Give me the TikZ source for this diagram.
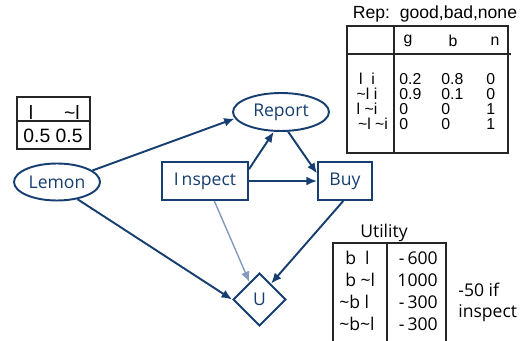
\documentclass[tikz,border=0pt]{standalone}
\usepackage{fontspec}
\setmainfont{Liberation Sans}
\newfontfamily\slidefont{Open Sans}
\usetikzlibrary{shapes.geometric,arrows.meta}
\definecolor{navy}{RGB}{22,62,112}
\definecolor{paleblue}{RGB}{132,154,190}
\definecolor{titleblue}{RGB}{51,51,170}
\tikzset{
        chance/.style={ellipse, draw=navy, line width=1.1pt, text=navy, inner sep=0pt, font=\slidefont\fontsize{10}{12}\selectfont},
        decision/.style={rectangle, draw=navy, line width=1.1pt, text=navy, inner sep=0pt, font=\slidefont\fontsize{10}{12}\selectfont},
        value/.style={diamond, draw=navy, line width=1.1pt, text=navy, inner sep=0pt, font=\slidefont\fontsize{10}{12}\selectfont},
        link/.style={draw=navy, line width=1.1pt, -{Latex[length=6pt,width=5pt]}},
        faint link/.style={link, draw=paleblue, line width=0.8pt},
        cpt/.style={inner sep=0pt, font=\fontsize{9}{11}\selectfont},
        util/.style={inner sep=0pt, font=\slidefont\fontsize{10}{12}\selectfont},
        grid line/.style={draw=black!85, line width=0.6pt}
          }
\begin{document}
\begin{tikzpicture}[x=0.02cm, y=-0.02cm]
        \useasboundingbox (0,0) rectangle (528,341);
        \begin{scope}
          \clip (0,0) rectangle (528,341);
          \node[font=\slidefont\fontsize{22}{26}\selectfont, text=titleblue, anchor=base] (titlefrag) at (201,-13) {y};
        \end{scope}
        % network
        \node[chance, minimum width=1.72cm, minimum height=0.74cm] (lemon) at (57,182) {Lemon};
        \node[chance, minimum width=1.92cm, minimum height=0.76cm] (report) at (281,112) {Report};
        \node[decision, minimum width=1.72cm, minimum height=0.76cm] (inspect) at (205,181) {I\,nspect};
        \node[decision, minimum width=1.08cm, minimum height=0.76cm] (buy) at (345,181) {Buy};
        \node[value, minimum width=1.06cm, minimum height=1.06cm] (u) at (259.5,299.5) {U};
        \draw[link] (lemon.18) -- (report.188);
        \draw[link] (lemon.-40) -- (u.west);
        \draw[link] (inspect.15) -- (report.250);
        \draw[link] (report.-70) -- (buy.165);
        \draw[link] (inspect.east) -- (buy.west);
        \draw[faint link] (inspect.-65) -- (u.120);
        \draw[link] (buy.-95) -- (u.54);
        % prior on lemon
        \draw[grid line] (17,97) rectangle (90,149);
        \draw[grid line] (17,121) -- (90,121);
        \node[cpt, font=\fontsize{11}{13}\selectfont] (lemonl) at (31,112) {l};
        \node[cpt, font=\fontsize{11}{13}\selectfont] (lemonnl) at (72,112) {\textasciitilde l};
        \node[cpt, font=\fontsize{11}{13}\selectfont] (lemonp) at (53,135.5) {0.5 0.5};
        % report table
        \node[cpt, font=\fontsize{10}{12}\selectfont] (reptitle) at (435,14) {Rep:\ \ good,bad,none};
        \draw[grid line] (347,26) rectangle (508,153);
        \draw[grid line] (347,54) -- (511,54);
        \draw[grid line] (394,26) -- (394,153);
        \node[cpt] (repg) at (408,41) {g};
        \node[cpt] (repb) at (453,41) {b};
        \node[cpt] (repn) at (495,41) {n};
        \foreach \i/\y/\lx/\lab/\g/\b/\n in {1/79/367/{l\ \ i}/0.2/0.8/0,
            2/94/367/{\textasciitilde l i}/0.9/0.1/0,
            3/109/367/{l \textasciitilde i}/0/0/1,
            4/124/373/{\textasciitilde l \textasciitilde i}/0/0/1}{
          \node[cpt] (rep\i l) at (\lx,\y) {\lab};
          \node[cpt, anchor=west] (rep\i g) at (399,\y) {\g};
          \node[cpt, anchor=west] (rep\i b) at (441,\y) {\b};
          \node[cpt, anchor=west] (rep\i n) at (486,\y) {\n};
        }
        % utility table
        \node[util] (utiltitle) at (384,233) {Utility};
        \draw[grid line] (333,341) -- (333,243) -- (446,243) -- (446,341);
        \draw[grid line] (387,243) -- (387,341);
        \foreach \i/\y/\lx/\lab/\val in {1/258/345/{b\ \ l}/-\,600,
            2/280/345/{b \textasciitilde l}/1000,
            3/302/339/{\textasciitilde b l}/-\,300,
            4/324/339/{\textasciitilde b\textasciitilde l}/-\,300}{
          \node[util, anchor=west] (util\i l) at (\lx,\y) {\lab};
          \node[util, anchor=east] (util\i v) at (438,\y) {\val};
        }
        \node[util, anchor=west, align=left] (inspcost) at (458,302) {-50 if\\inspect};
      \end{tikzpicture}
\end{document}
